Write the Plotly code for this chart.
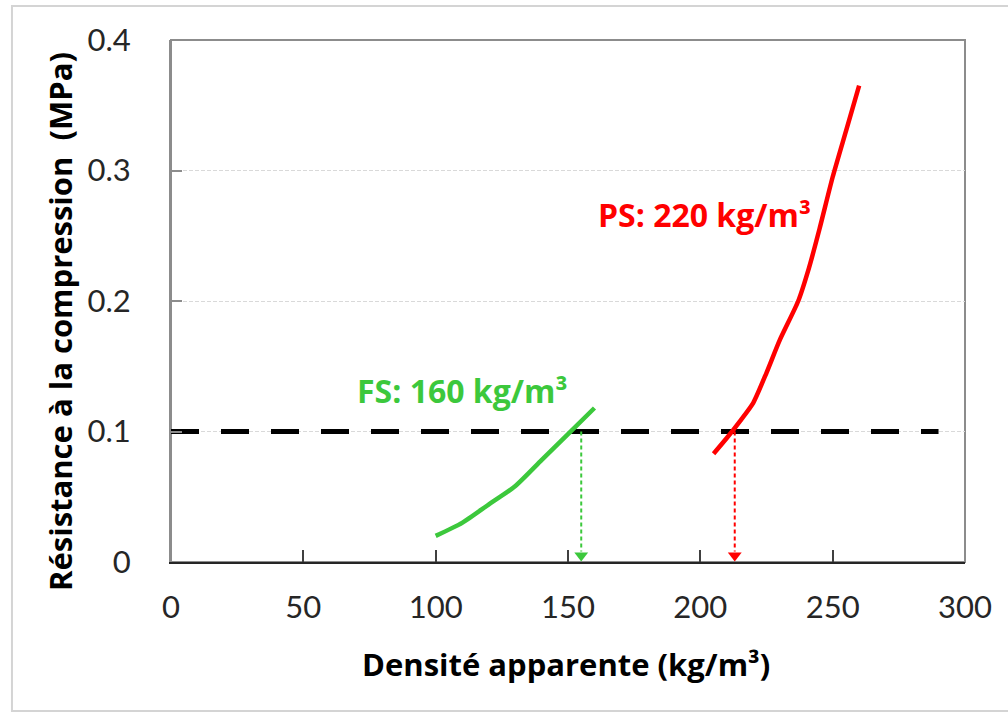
import plotly.graph_objects as go

# Compression strength vs. apparent density
fs_density = [100, 110, 120, 130, 140, 150, 160]
fs_strength = [0.020, 0.030, 0.044, 0.058, 0.078, 0.098, 0.118]

ps_density = [205, 210, 215, 220, 225, 230, 237, 241, 245, 250, 255, 260]
ps_strength = [0.083, 0.095, 0.108, 0.122, 0.145, 0.170, 0.200, 0.225, 0.255, 0.295, 0.330, 0.365]

threshold = 0.1
threshold_span = [0, 290]
fs_read = 155
ps_read = 213

x_ticks = [0, 50, 100, 150, 200, 250, 300]
y_ticks = [0, 0.1, 0.2, 0.3, 0.4]
y_ticktext = ["0", "0.1", "0.2", "0.3", "0.4"]

GREEN = "#3CC83C"
RED = "#FF0000"
FONT = "Lato"
TITLE_FONT = "Open Sans"

fig = go.Figure()

fig.add_trace(go.Scatter(x=threshold_span, y=[threshold, threshold], mode="lines",
                         line=dict(color="black", width=5, dash="28px,22px"),
                         hoverinfo="skip"))

fig.add_trace(go.Scatter(x=fs_density, y=fs_strength, mode="lines",
                         line=dict(color=GREEN, width=4.5, shape="spline", smoothing=0.6)))
fig.add_trace(go.Scatter(x=ps_density, y=ps_strength, mode="lines",
                         line=dict(color=RED, width=4.5, shape="spline", smoothing=0.6)))

# dotted read-off arrows down to the density axis
for xv, col in [(fs_read, GREEN), (ps_read, RED)]:
    fig.add_trace(go.Scatter(x=[xv, xv], y=[threshold, 0.008], mode="lines",
                             line=dict(color=col, width=2, dash="4px,3px"),
                             hoverinfo="skip"))
    fig.add_trace(go.Scatter(x=[xv], y=[0.005], mode="markers",
                             marker=dict(symbol="triangle-down", size=12, color=col),
                             hoverinfo="skip"))

# outer border and plot frame
fig.add_shape(type="rect", xref="paper", yref="paper", x0=-0.2003, x1=1.06,
              y0=-0.2854, y1=1.0651, line=dict(color="#d4d4d4", width=2), layer="below")
fig.add_shape(type="rect", xref="paper", yref="paper", x0=0, x1=1, y0=0, y1=1,
              line=dict(color="#8c8c8c", width=2), layer="below")

title_font = dict(family=TITLE_FONT, size=31, color="black", weight="bold")
fig.add_annotation(x=0.4975, y=-0.1954, xref="paper", yref="paper",
                   xanchor="center", yanchor="middle",
                   text="Densité apparente (kg/m³)", showarrow=False, font=title_font)
fig.add_annotation(x=-0.1398, y=0.4617, xref="paper", yref="paper", textangle=-90,
                   xanchor="center", yanchor="middle",
                   text="Résistance à la compression  (MPa)", showarrow=False, font=title_font)

fig.add_annotation(x=(462 - 171) / 794 * 300, y=(562 - 390) / 1305, text="FS: 160 kg/m³",
                   xanchor="center", yanchor="middle", showarrow=False,
                   font=dict(family=TITLE_FONT, size=32, color=GREEN, weight="bold"))
fig.add_annotation(x=(704 - 171) / 794 * 300, y=(562 - 214) / 1305, text="PS: 220 kg/m³",
                   xanchor="center", yanchor="middle", showarrow=False,
                   font=dict(family=TITLE_FONT, size=32, color=RED, weight="bold"))

fig.update_layout(
    width=1008, height=713,
    margin=dict(l=171, r=43, t=40, b=151),
    paper_bgcolor="white", plot_bgcolor="white",
    showlegend=False,
    font=dict(family=FONT, color="#262626"),
    xaxis=dict(range=[0, 300], tickvals=x_ticks, ticks="inside", ticklen=12,
               tickwidth=2, tickcolor="#404040", showline=True, linecolor="#262626",
               linewidth=2, showgrid=False, zeroline=False,
               tickfont=dict(family=FONT, size=31, color="#262626"),
               ticklabelstandoff=17),
    yaxis=dict(range=[0, 0.4], tickvals=y_ticks, ticktext=y_ticktext, ticks="inside",
               ticklen=11, tickwidth=2, tickcolor="#8c8c8c", showline=True,
               linecolor="#8c8c8c", linewidth=2, showgrid=True, gridcolor="#d9d9d9",
               griddash="4px,2px", gridwidth=1, zeroline=False,
               tickfont=dict(family=FONT, size=31, color="#262626"),
               ticklabelstandoff=32),
)

fig.write_html("out.html")
